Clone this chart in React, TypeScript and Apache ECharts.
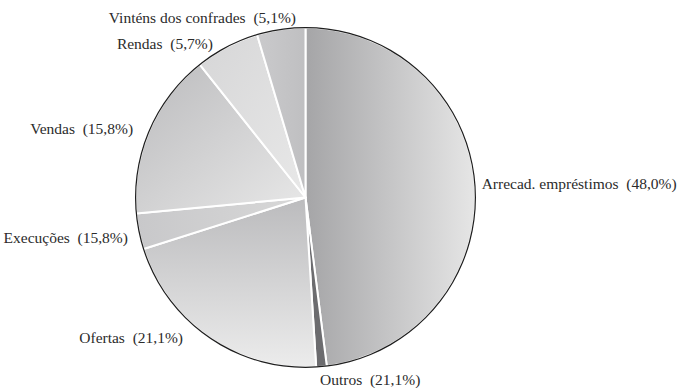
import React, { useEffect, useRef } from "react";
import * as echarts from "echarts";

const categories = [
  "Arrecad. empréstimos",
  "Outros",
  "Ofertas",
  "Execuções",
  "Vendas",
  "Rendas",
  "Vinténs dos confrades",
];
// slice sizes as drawn (share of circle, %)
const sliceValues = [48.0, 1.0, 21.1, 3.4, 15.8, 6.1, 4.6];
// percentages printed in the labels
const labelPercents = ["48,0", "21,1", "21,1", "15,8", "15,8", "5,7", "5,1"];

// styling (kept separate from data)
const sliceGradients: [string, string, number, number, number, number][] = [
  ["#a5a5a7", "#e6e6e6", 0, 0, 1, 0],
  ["#6c6c6f", "#6c6c6f", 0, 0, 1, 0],
  ["#bbbbbd", "#ececec", 0, 0, 0, 1],
  ["#c8c8ca", "#d8d8d8", 0, 0, 1, 0],
  ["#bbbbbd", "#e8e8e8", 0, 0, 1, 1],
  ["#d6d6d7", "#e8e8e8", 0, 0, 1, 1],
  ["#cacacc", "#bfbfc1", 0, 0, 1, 0],
];
const labelNudges: [number, number][] = [
  [1.5, -3],
  [-6.5, 13],
  [-21.5, 0],
  [-6, 6],
  [-11, -2],
  [-9, -3],
  [20, -12],
];

export default function App() {
  const ref = useRef<HTMLDivElement>(null);
  useEffect(() => {
    if (!ref.current) return;
    const chart = echarts.init(ref.current, undefined, { renderer: "svg" });
    const data = categories.map((name, i) => {
      const g = sliceGradients[i];
      return {
        name,
        value: sliceValues[i],
        itemStyle: {
          color: new echarts.graphic.LinearGradient(g[2], g[3], g[4], g[5], [
            { offset: 0, color: g[0] },
            { offset: 1, color: g[1] },
          ]),
        },
      };
    });
    chart.setOption({
      animation: false,
      backgroundColor: "#ffffff",
      textStyle: { fontFamily: "Liberation Serif" },
      series: [
        {
          type: "pie",
          center: [305.5, 197.5],
          radius: [0, 170],
          startAngle: 90,
          clockwise: true,
          avoidLabelOverlap: false,
          silent: true,
          data,
          itemStyle: { borderColor: "#ffffff", borderWidth: 2 },
          label: {
            show: true,
            position: "outside",
            distanceToLabelLine: 5,
            fontFamily: "Liberation Serif",
            fontSize: 15.5,
            color: "#2b2b2b",
            formatter: (p: any) =>
              `${p.name}\u00a0 (${labelPercents[p.dataIndex]}%)`,
          },
          labelLine: { show: false, length: 0, length2: 0 },
          labelLayout: (p: any) => ({
            dx: labelNudges[p.dataIndex][0],
            dy: labelNudges[p.dataIndex][1],
          }),
          z: 2,
        },
        {
          type: "pie",
          center: [305.5, 197.5],
          radius: [169.3, 170.5],
          silent: true,
          label: { show: false },
          labelLine: { show: false },
          itemStyle: { color: "#1e1e1e", borderWidth: 0 },
          data: [{ value: 1, name: "outline" }],
          z: 3,
        },
      ],
    });
    return () => chart.dispose();
  }, []);
  return (
    <div
      ref={ref}
      style={{ position: "fixed", left: 0, top: 0, width: 683, height: 388 }}
    />
  );
}
